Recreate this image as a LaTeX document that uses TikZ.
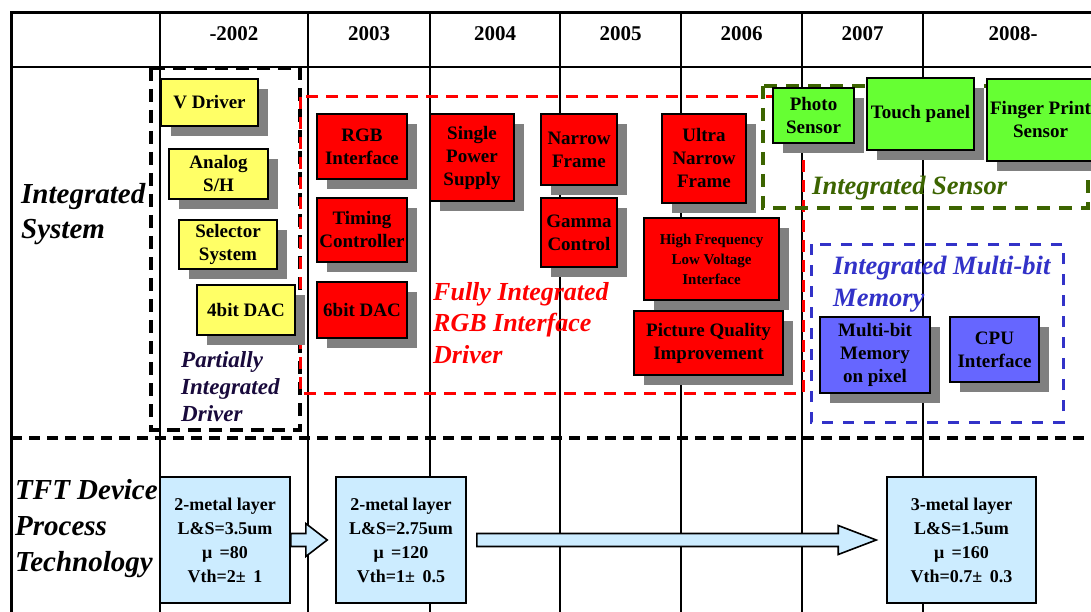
\documentclass[tikz,border=0pt]{standalone}
\usepackage{fontspec}
\setmainfont{Liberation Serif}
\usetikzlibrary{shadows,calc}
\definecolor{yfill}{RGB}{255,255,102}
\definecolor{rfill}{RGB}{255,0,0}
\definecolor{gfill}{RGB}{102,255,51}
\definecolor{bfill}{RGB}{102,102,255}
\definecolor{lbfill}{RGB}{204,236,255}
\definecolor{shgray}{RGB}{128,128,128}
\definecolor{dkgreen}{RGB}{60,100,0}
\definecolor{memblue}{RGB}{50,50,200}
\definecolor{navy}{RGB}{25,10,60}
\tikzset{
  sz/.style 2 args={minimum width=#1pt, minimum height=#2pt},
  box/.style={draw=black, line width=1.6pt, align=center, inner sep=0pt,
    font=\bfseries\fontsize{19}{23}\selectfont,
    general shadow={fill=shgray, shadow xshift=10pt, shadow yshift=-10pt}},
  ybox/.style={box, fill=yfill},
  rbox/.style={box, fill=rfill},
  gbox/.style={box, fill=gfill},
  bbox/.style={box, fill=bfill},
  tbox/.style={draw=black, line width=1.6pt, fill=lbfill, align=center, inner sep=0pt,
    font=\bfseries\fontsize{18}{24}\selectfont},
  barrow/.style={draw=black, line width=1.6pt, fill=lbfill, line join=miter},
  grid/.style={line width=1.5pt},
  yr/.style={font=\bfseries\fontsize{21}{25}\selectfont},
  lab/.style={anchor=west, align=left, inner sep=0pt},
}
\begin{document}
\begin{tikzpicture}[x=1pt,y=-1pt]
\useasboundingbox (0,0) rectangle (1091,612);
\clip (0,0) rectangle (1091,612);
\fill[white] (0,0) rectangle (1091,612);
% table grid
\draw[line width=3pt] (11,612) -- (11,13) -- (1091,13);
\draw[line width=1.8pt] (11,67) -- (1091,67);
\foreach \x in {160,308,430,560,681,802,923} \draw[grid] (\x,13) -- (\x,612);
\draw[line width=3.5pt, dash pattern=on 11pt off 7pt] (11,438) -- (1091,438);
% header
\node[yr] (h1) at (234,34) {-2002};
\node[yr] (h2) at (369,34) {2003};
\node[yr] (h3) at (495,34) {2004};
\node[yr] (h4) at (620.5,34) {2005};
\node[yr] (h5) at (741.5,34) {2006};
\node[yr] (h6) at (862.5,34) {2007};
\node[yr] (h7) at (1013,34) {2008-};
% group frames
\draw[line width=3.5pt, dash pattern=on 13pt off 8pt] (151,68) rectangle (300,430);
\draw[red, line width=3pt, dash pattern=on 12pt off 8pt] (300,97) rectangle (803,393);
\draw[dkgreen, line width=3.5pt, dash pattern=on 13pt off 9pt] (763,86) rectangle (1088,208);
\draw[memblue, line width=3pt, dash pattern=on 11pt off 10pt] (811,244) rectangle (1063,422);
% row labels
\node[lab, font=\bfseries\itshape\fontsize{29}{35}\selectfont] (isys) at (21,214.5) {Integrated\\System};
\node[lab, font=\bfseries\itshape\fontsize{29}{36}\selectfont] (tft) at (15,529) {TFT Device\\Process\\Technology};
% group labels
\node[lab, navy, font=\bfseries\itshape\fontsize{23}{27}\selectfont] (pid) at (181,387) {Partially\\Integrated\\Driver};
\node[lab, red, font=\bfseries\itshape\fontsize{26}{31.5}\selectfont] (fid) at (433,323) {Fully Integrated\\RGB Interface\\Driver};
\node[lab, dkgreen, font=\bfseries\itshape\fontsize{26.5}{32}\selectfont] (isen) at (812,188) {Integrated Sensor};
\node[lab, memblue, font=\bfseries\itshape\fontsize{26.5}{32}\selectfont] (imem) at (833,284) {Integrated Multi-bit\\Memory};
% yellow boxes
\node[ybox, sz={97}{47}] (vdrv) at (209.5,102.5) {V Driver};
\node[ybox, sz={99}{50}] (ash) at (218.5,174) {Analog\\S/H};
\node[ybox, sz={98}{49}] (sel) at (228,244.5) {Selector\\System};
\node[ybox, sz={98}{50}] (dac4) at (246,310) {4bit DAC};
% red boxes
\node[rbox, sz={90}{65}] (rgb) at (362,146.5) {RGB\\Interface};
\node[rbox, sz={90}{64}] (tim) at (362,230) {Timing\\Controller};
\node[rbox, sz={90}{56}] (dac6) at (362,310) {6bit DAC};
\node[rbox, sz={84}{87}] (sps) at (472,157.5) {Single\\Power\\Supply};
\node[rbox, sz={76}{71}] (nf) at (579,149.5) {Narrow\\Frame};
\node[rbox, sz={76}{69}] (gam) at (579,232.5) {Gamma\\Control};
\node[rbox, sz={84}{89}] (unf) at (704,158.5) {Ultra\\Narrow\\Frame};
\node[rbox, sz={135}{82}, font=\bfseries\fontsize{15}{20}\selectfont] (hflv) at (711.5,259) {High Frequency\\Low Voltage\\Interface};
\node[rbox, sz={149}{64}] (pqi) at (708.5,343) {Picture Quality\\Improvement};
% green boxes
\node[gbox, sz={81}{55}] (ps) at (813.5,115.5) {Photo\\Sensor};
\node[gbox, sz={107}{72}] (tp) at (920.5,114) {Touch panel};
\node[gbox, sz={107}{82}] (fps) at (1040.5,120) {Finger Print\\Sensor};
% blue boxes
\node[bbox, sz={110}{76}] (mbm) at (875,355) {Multi-bit\\Memory\\on pixel};
\node[bbox, sz={89}{65}] (cpu) at (994.5,349.5) {CPU\\Interface};
% TFT boxes
\node[tbox, sz={130}{126}] (b1) at (225,540) {2-metal layer\\L\&S=3.5um\\μ \,=80\\Vth=2± \,1};
\node[tbox, sz={130}{126}] (b2) at (401,540) {2-metal layer\\L\&S=2.75um\\μ \,=120\\Vth=1± \,0.5};
\node[tbox, sz={149}{126}] (b3) at (961.5,540) {3-metal layer\\L\&S=1.5um\\μ \,=160\\Vth=0.7± \,0.3};
% block arrows
\draw[barrow] ($(b1.east)+(0,-6.5)$) -- ++(15,0) -- ++(0,-10) -- ($(b2.west)+(-8,0)$)
  -- ($(b1.east)+(15,16.5)$) -- ++(0,-10) -- ($(b1.east)+(0,6.5)$) -- cycle;
\draw[barrow] ($(b2.east)+(10,-6.5)$) -- ($(b3.west)+(-48,-6.5)$) -- ($(b3.west)+(-48,-14.5)$)
  -- ($(b3.west)+(-10,0)$) -- ($(b3.west)+(-48,14.5)$) -- ($(b3.west)+(-48,6.5)$)
  -- ($(b2.east)+(10,6.5)$) -- cycle;
\end{tikzpicture}
\end{document}
